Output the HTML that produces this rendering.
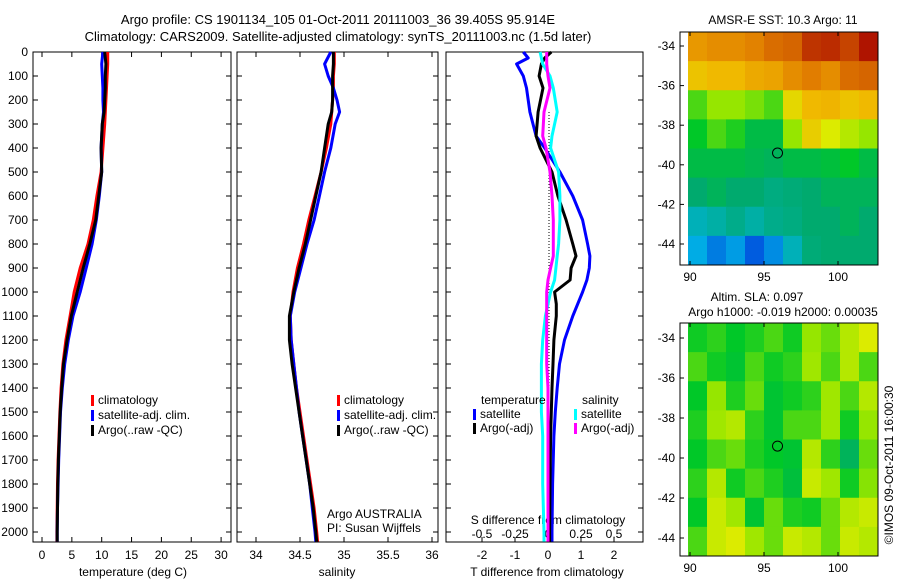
<!DOCTYPE html>
<html><head><meta charset="utf-8"><style>
body{margin:0;background:#fff;}
svg{display:block;font-family:"Liberation Sans",sans-serif;font-size:12px;}
</style></head><body>
<svg id="fig" width="900" height="580" viewBox="0 0 900 580" xmlns="http://www.w3.org/2000/svg">
<text x="338" y="24" text-anchor="middle" font-size="13">Argo profile: CS 1901134_105 01-Oct-2011 20111003_36 39.405S 95.914E</text>
<text x="338" y="41" text-anchor="middle" font-size="13">Climatology: CARS2009. Satellite-adjusted climatology: synTS_20111003.nc (1.5d later)</text>
<text x="783" y="24" text-anchor="middle">AMSR-E SST: 10.3 Argo: 11</text>
<text x="757" y="301" text-anchor="middle">Altim. SLA: 0.097</text>
<text x="783" y="316" text-anchor="middle">Argo h1000: -0.019 h2000: 0.00035</text>
<text transform="translate(893,465) rotate(-90)" text-anchor="middle">©IMOS 09-Oct-2011 16:00:30</text>
<g id="layer"></g>
</svg>
<script>
// ---- data ----
const depths=[0,50,100,150,200,250,300,400,500,600,700,800,900,1000,1100,1200,1300,1400,1500,1600,1700,1800,1900,2000,2040];
const tempClim=[11.0,11.0,10.9,10.8,10.7,10.6,10.5,10.2,9.9,9.2,8.6,7.7,6.4,5.4,4.7,4.0,3.5,3.2,3.0,2.85,2.7,2.6,2.55,2.5,2.5];
const tempSat=[10.2,10.0,10.1,10.2,10.2,10.3,10.1,9.9,10.0,9.6,9.1,8.4,7.4,6.4,5.2,4.4,3.8,3.4,3.1,2.95,2.8,2.7,2.6,2.55,2.55];
const tempArgo=[10.5,10.7,10.6,10.6,10.5,10.4,10.1,9.9,10.0,9.5,9.0,8.0,6.9,5.9,4.9,4.2,3.6,3.3,3.05,2.9,2.75,2.65,2.6,2.55,2.55];
const salClim=[34.89,34.89,34.88,34.88,34.87,34.86,34.85,34.80,34.74,34.67,34.60,34.54,34.47,34.42,34.39,34.40,34.43,34.46,34.50,34.54,34.58,34.62,34.66,34.69,34.70];
const salSat=[34.85,34.78,34.82,34.88,34.92,34.95,34.90,34.85,34.78,34.72,34.66,34.58,34.51,34.44,34.39,34.40,34.43,34.46,34.49,34.53,34.57,34.61,34.64,34.67,34.68];
const salArgo=[34.88,34.88,34.87,34.87,34.87,34.86,34.82,34.78,34.74,34.68,34.62,34.56,34.49,34.43,34.38,34.38,34.41,34.45,34.49,34.53,34.57,34.61,34.65,34.68,34.69];
const diffDepths=[0,25,50,100,150,250,350,400,500,600,700,800,850,900,950,1000,1050,1100,1200,1300,1400,1500,1600,1800,2000,2040];
const dTSat=[-0.75,-0.6,-0.95,-0.75,-0.65,-0.55,-0.36,-0.1,0.36,0.75,1.05,1.2,1.27,1.25,1.18,1.05,0.9,0.75,0.5,0.35,0.28,0.22,0.18,0.14,0.12,0.12];
const dTArgo=[0.1,-0.1,-0.2,-0.27,-0.15,-0.3,-0.36,-0.24,0.12,0.3,0.55,0.75,0.85,0.7,0.67,0.2,0.25,0.25,0.18,0.15,0.12,0.1,0.08,0.06,0.05,0.05];
const dSSat=[-0.06,-0.05,-0.04,0.015,0.04,0.07,0.03,0.02,0.08,0.09,0.09,0.08,0.07,0.06,0.05,0.02,0.0,-0.02,-0.04,-0.05,-0.05,-0.05,-0.04,-0.04,-0.03,-0.03];
const dSArgo=[-0.01,-0.01,-0.01,0.0,0.015,-0.03,-0.04,-0.015,0.015,0.03,0.04,0.04,0.04,0.02,0.0,-0.01,-0.01,-0.01,-0.01,-0.01,0.0,0.0,0.0,0.0,0.0,0.0];
const depthTicks=[0,100,200,300,400,500,600,700,800,900,1000,1100,1200,1300,1400,1500,1600,1700,1800,1900,2000];
const tempTicks=[0,5,10,15,20,25,30];
const salTicks=[34,34.5,35,35.5,36];
const salTickLabels=["34","34.5","35","35.5","36"];
const dTTicks=[-2,-1,0,1,2];
const dSTicks=[-0.5,-0.25,0,0.25,0.5];
const dSTickLabels=["-0.5","-0.25","0","0.25","0.5"];
const latTicks=[-34,-36,-38,-40,-42,-44];
const lonTicks=[90,95,100];
const sstGrid=[
[0.78,0.80,0.80,0.82,0.85,0.86,0.92,0.93,0.90,0.96],
[0.70,0.72,0.72,0.75,0.76,0.80,0.83,0.80,0.85,0.86],
[0.50,0.55,0.55,0.53,0.50,0.66,0.72,0.73,0.70,0.72],
[0.45,0.50,0.47,0.42,0.42,0.55,0.68,0.62,0.58,0.55],
[0.42,0.42,0.42,0.41,0.40,0.42,0.42,0.43,0.45,0.42],
[0.38,0.40,0.38,0.38,0.36,0.37,0.38,0.40,0.40,0.40],
[0.30,0.32,0.35,0.32,0.35,0.36,0.38,0.38,0.40,0.38],
[0.24,0.18,0.22,0.14,0.20,0.30,0.37,0.38,0.38,0.38]];
const slaGrid=[
[0.46,0.48,0.45,0.47,0.50,0.46,0.55,0.52,0.58,0.62],
[0.50,0.46,0.44,0.50,0.46,0.48,0.56,0.50,0.58,0.50],
[0.45,0.55,0.47,0.52,0.44,0.46,0.48,0.56,0.50,0.58],
[0.47,0.56,0.58,0.48,0.44,0.50,0.50,0.56,0.46,0.55],
[0.45,0.50,0.52,0.47,0.45,0.44,0.58,0.48,0.40,0.52],
[0.48,0.58,0.46,0.50,0.47,0.43,0.60,0.56,0.46,0.54],
[0.45,0.60,0.56,0.44,0.52,0.47,0.46,0.52,0.58,0.60],
[0.50,0.60,0.62,0.56,0.52,0.60,0.58,0.52,0.60,0.58]];
// ---- helpers ----
const NS="http://www.w3.org/2000/svg";
const layer=document.getElementById('layer');
function mk(tag,attrs,parent){const e=document.createElementNS(NS,tag);for(const k in attrs)e.setAttribute(k,attrs[k]);(parent||layer).appendChild(e);return e;}
const Y0=52,Ypx=0.24;
function yD(d){return Y0+d*Ypx;}
const xT=v=>42+v*5.97;
const xS=v=>256+(v-34)*88;
const xDT=v=>548+v*33;
const xDS=v=>548+v*132;
const panels=[{x0:33,x1:231,name:'temperature-panel'},{x0:237,x1:438,name:'salinity-panel'},{x0:446,x1:643,name:'difference-panel'}];
panels.forEach((p,i)=>{
 const r=mk('rect',{x:p.x0,y:Y0,width:p.x1-p.x0,height:542-Y0,fill:'none',stroke:'#000','stroke-width':1});
 
 
 depthTicks.forEach(d=>{
  mk('line',{x1:p.x0,x2:p.x0+5,y1:yD(d),y2:yD(d),stroke:'#000'});
  mk('line',{x1:p.x1,x2:p.x1-5,y1:yD(d),y2:yD(d),stroke:'#000'});
 });
});
depthTicks.forEach(d=>{
 const t=mk('text',{x:28,y:yD(d)+4,'text-anchor':'end'});t.textContent=d;
 
 
});
function xticks(ticks,labels,fx,p,ly,top){
 ticks.forEach((v,i)=>{const x=fx(v);
  mk('line',{x1:x,x2:x,y1:542,y2:537,stroke:'#000'});
  if(top)mk('line',{x1:x,x2:x,y1:Y0,y2:Y0+5,stroke:'#000'});
  const t=mk('text',{x:x,y:ly,'text-anchor':'middle'});t.textContent=labels[i];
  
  
 });
}
xticks(tempTicks,tempTicks.map(String),xT,panels[0],559,true);
xticks(salTicks,salTickLabels,xS,panels[1],559,true);
xticks(dTTicks,dTTicks.map(String),xDT,panels[2],559,false);
dSTicks.forEach((v,i)=>{const t=mk('text',{x:xDS(v),y:538,'text-anchor':'middle'});t.textContent=dSTickLabels[i];
 
 });
function label(txt,x,y,name,anchor){const t=mk('text',{x:x,y:y,'text-anchor':anchor||'middle'});t.textContent=txt;
 
 return t;}
label('temperature (deg C)',133,576,'temperature-axis-title');
label('salinity',337,576,'salinity-axis-title');
label('T difference from climatology',547,576,'t-diff-axis-title');
label('S difference from climatology',548,524,'s-diff-axis-title');
label('Argo AUSTRALIA',327,518,'argo-australia-label','start');
label('PI: Susan Wijffels',327,532,'pi-label','start');
const z=mk('line',{x1:549,x2:549,y1:yD(250),y2:540,stroke:'#000','stroke-dasharray':'1,2'});


function series(vals,dd,fx,color,name){
 const pts=vals.map((v,i)=>fx(v).toFixed(1)+','+yD(dd[i]).toFixed(1)).join(' ');
 const l=mk('polyline',{points:pts,fill:'none',stroke:color,'stroke-width':3,'stroke-linejoin':'round'});
 
 
}
series(tempClim,depths,xT,'#f00','temp-climatology-line');
series(tempSat,depths,xT,'#00f','temp-satellite-line');
series(tempArgo,depths,xT,'#000','temp-argo-line');
series(salClim,depths,xS,'#f00','sal-climatology-line');
series(salSat,depths,xS,'#00f','sal-satellite-line');
series(salArgo,depths,xS,'#000','sal-argo-line');
series(dTSat,diffDepths,xDT,'#00f','dt-satellite-line');
series(dTArgo,diffDepths,xDT,'#000','dt-argo-line');
series(dSSat,diffDepths,xDS,'#0ff','ds-satellite-line');
series(dSArgo,diffDepths,xDS,'#f0f','ds-argo-line');
function legend(x,y,color,txt,name){
 const m=mk('rect',{x:x,y:y-9,width:3,height:11,fill:color});
 
 
 label(txt,x+7,y,name,'start');
}
[[91,'#f00','climatology'],[91,'#00f','satellite-adj. clim.'],[91,'#000','Argo(..raw -QC)']].forEach((a,i)=>legend(a[0],404+i*15,a[1],a[2],'temp-legend-entry'));
[[337,'#f00','climatology'],[337,'#00f','satellite-adj. clim.'],[337,'#000','Argo(..raw -QC)']].forEach((a,i)=>legend(a[0],404+i*15,a[1],a[2],'sal-legend-entry'));
label('temperature',481,404,'legend-temperature-header','start');
label('salinity',582,404,'legend-salinity-header','start');
legend(473,418,'#00f','satellite','legend-t-satellite');
legend(473,432,'#000','Argo(-adj)','legend-t-argo');
legend(574,418,'#0ff','satellite','legend-s-satellite');
legend(574,432,'#f0f','Argo(-adj)','legend-s-argo');
// ---- maps ----
const stops=[[0.1,[0,60,220]],[0.25,[0,180,230]],[0.38,[0,170,110]],[0.45,[0,200,40]],[0.55,[150,230,0]],[0.62,[220,235,0]],[0.72,[240,185,0]],[0.83,[225,125,0]],[0.96,[175,20,0]]];
function cmap(v){
 if(v<=stops[0][0])return 'rgb('+stops[0][1]+')';
 for(let i=1;i<stops.length;i++){if(v<=stops[i][0]){const a=stops[i-1],b=stops[i],t=(v-a[0])/(b[0]-a[0]);
  return 'rgb('+a[1].map((c,k)=>Math.round(c+(b[1][k]-c)*t)).join(',')+')';}}
 return 'rgb('+stops[stops.length-1][1]+')';
}
function map(grid,top,bot,latY34,latY44,name){
 const L=680,R=878,DL=688;
 const lonX=v=>690+(v-90)*14.8;
 const latY=v=>latY34+(v+34)/(-10)*(latY44-latY34);
 const rows=grid.length,cols=grid[0].length;
 const cw=(R-DL)/cols,ch=(bot-top)/rows;
 grid.forEach((row,r)=>row.forEach((v,c)=>{
  const cell=mk('rect',{x:DL+c*cw,y:top+r*ch,width:cw+0.5,height:ch+0.5,fill:cmap(v)});
  
  
 }));
 const f=mk('rect',{x:L,y:top,width:R-L,height:bot-top,fill:'none',stroke:'#000'});
 
 
 latTicks.forEach(v=>{const y=latY(v);mk('line',{x1:L,x2:L+4,y1:y,y2:y,stroke:'#000'});
  label(String(v),675,y+4,'lat-tick-label','end');});
 lonTicks.forEach(v=>{const x=lonX(v);mk('line',{x1:x,x2:x,y1:bot,y2:bot-4,stroke:'#000'});
  mk('line',{x1:x,x2:x,y1:top,y2:top+4,stroke:'#000'});
  label(String(v),x,bot+16,'lon-tick-label');});
 const c=mk('ellipse',{cx:lonX(95.914),cy:latY(-39.405),rx:5,ry:5,fill:'none',stroke:'#000'});
 
 
}
map(sstGrid,32,265,46,244,'sst-map');
map(slaGrid,323,556,338,538,'sla-map');
</script>
</body></html>
